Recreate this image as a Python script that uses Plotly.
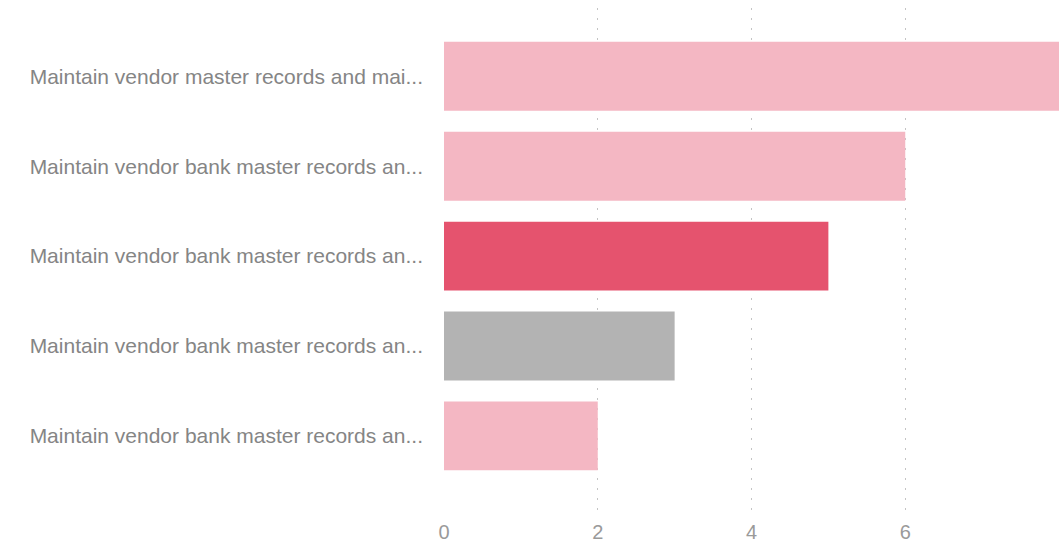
import plotly.graph_objects as go

categories = [
    "Maintain vendor master records and mai...",
    "Maintain vendor bank master records an...",
    "Maintain vendor bank master records an...",
    "Maintain vendor bank master records an...",
    "Maintain vendor bank master records an...",
]
values = [8, 6, 5, 3, 2]
bar_colors = ["#F4B7C3", "#F4B7C3", "#E5536E", "#B3B3B3", "#F4B7C3"]
x_ticks = [0, 2, 4, 6, 8]

positions = list(range(len(categories)))

fig = go.Figure(
    go.Bar(
        x=values,
        y=positions,
        orientation="h",
        marker=dict(color=bar_colors, line=dict(width=0)),
        hoverinfo="skip",
    )
)

fig.update_layout(
    width=1059,
    height=548,
    margin=dict(l=444, r=0, t=8, b=33),
    paper_bgcolor="white",
    plot_bgcolor="white",
    bargap=0.233,
    showlegend=False,
    font=dict(family="Liberation Sans, Arial, sans-serif", size=21, color="#858585"),
)

fig.update_xaxes(
    range=[0, 8],
    tickvals=x_ticks,
    ticktext=[str(t) for t in x_ticks],
    showgrid=True,
    gridcolor="#C4C4C4",
    griddash="2px,8px",
    gridwidth=1,
    zeroline=False,
    showline=False,
    ticks="",
    tickfont=dict(size=20, color="#9A9A9A"),
    ticklabelstandoff=3,
)

fig.update_yaxes(
    range=[4.88, -0.76],
    tickvals=positions,
    ticktext=categories,
    showgrid=False,
    zeroline=False,
    showline=False,
    ticks="",
    ticklabelstandoff=20,
    tickfont=dict(size=21, color="#858585"),
)

fig.write_html(
    "out.html",
    config={"displayModeBar": False},
    post_script="document.body.style.margin='0';document.body.style.overflow='hidden';",
)
